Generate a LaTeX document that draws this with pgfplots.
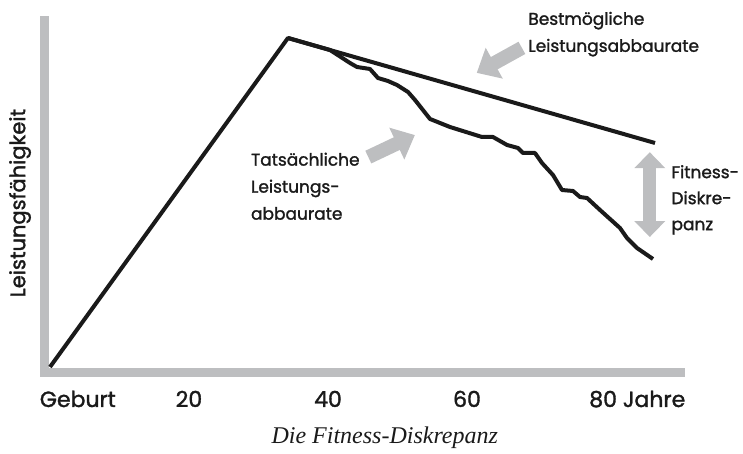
\documentclass[border=0pt]{standalone}
\usepackage{pgfplots}
\pgfplotsset{compat=1.18}
\usepackage{fontspec}
\setmainfont{Poppins}[FakeBold=1.5]
\newfontfamily\capfont{Liberation Serif}
\usetikzlibrary{arrows.meta}
\definecolor{axgray}{HTML}{BDBEC0}
\definecolor{ink}{HTML}{1A1A1A}
\begin{document}
\begin{tikzpicture}
\path[use as bounding box] (0,0) rectangle (743pt,454pt);
\begin{axis}[
  scale only axis, width=636pt, height=352.5pt,
  at={(44.5pt,81pt)}, anchor=south west,
  xmin=-0.79, xmax=90.72, ymin=-1.82, ymax=105.32,
  axis x line=bottom, axis y line=left,
  axis line style={-, line width=9pt, color=axgray, line cap=rect},
  xtick={4.0,20,40,60,84.5},
  xticklabels={Geburt,20,40,60,80 Jahre},
  ytick=\empty,
  major tick length=0pt,
  xticklabel style={font=\fontsize{22}{26}\selectfont, anchor=base, yshift=-34pt, text=ink},
  ylabel={Leistungsfähigkeit},
  ylabel style={at={(axis description cs:-0.0385,0.482)}, anchor=center, font=\fontsize{21}{25}\selectfont, text=ink},
  xlabel={Die Fitness-Diskrepanz},
  xlabel style={at={(axis description cs:0.535,-0.1986)}, anchor=base, font=\capfont\itshape\fontsize{24}{28}\selectfont, text=ink},
  clip=false,
]
% best possible decline
\addplot[ink, line width=4pt, line join=round] coordinates {
 (0,0) (34.24,100) (87.05,68.09)
};
% actual decline
\addplot[ink, line width=4pt, line join=round] coordinates {
 (34.24,100) (40.29,96.35) (43.17,92.40) (44.17,91.19) (46.04,90.58)
 (47.19,87.84) (48.63,86.93) (49.93,85.71) (51.51,83.59) (52.52,81.16)
 (54.68,75.38) (57.55,72.95) (62.16,69.91) (63.74,69.91) (65.76,67.48)
 (67.34,66.57) (68.06,65.05) (69.78,65.05) (70.79,62.01) (72.37,58.36)
 (73.67,53.80) (75.25,53.50) (76.26,51.67) (77.27,51.37) (79.14,47.72)
 (82.01,42.25) (83.02,39.21) (84.46,36.17) (86.76,32.83)
};
% arrows
\draw[axgray, line width=14pt, -{Triangle[width=34pt,length=20pt]}] (axis cs:67.9,97.0) -- (axis cs:61.4,89.4);
\draw[axgray, line width=14pt, -{Triangle[width=34pt,length=20pt]}] (axis cs:45.8,63.8) -- (axis cs:52.5,70.5);
\draw[axgray, line width=13pt, {Triangle[width=30pt,length=16pt]}-{Triangle[width=30pt,length=16pt]}] (axis cs:86.3,65.3) -- (axis cs:86.3,39.5);
% annotations
\node[anchor=north west, align=left, inner sep=0pt, text=ink, font=\fontsize{17}{27}\selectfont] at (axis cs:68.8,108.0) {Bestmögliche\\Leistungsabbaurate};
\node[anchor=north west, align=left, inner sep=0pt, text=ink, font=\fontsize{17}{27}\selectfont] at (axis cs:28.9,65.2) {Tatsächliche\\Leistungs-\\abbaurate};
\node[anchor=north west, align=left, inner sep=0pt, text=ink, font=\fontsize{17}{26}\selectfont] at (axis cs:89.4,61.4) {Fitness-\\Diskre-\\panz};
\end{axis}
\end{tikzpicture}
\end{document}
